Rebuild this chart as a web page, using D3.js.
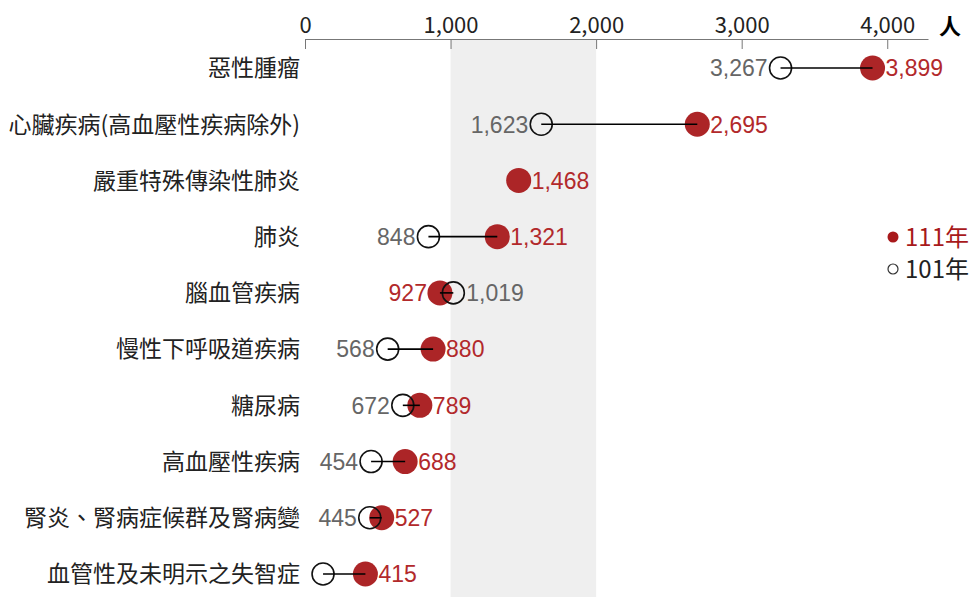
<!DOCTYPE html>
<html>
<head>
<meta charset="utf-8">
<script src="https://cdn.jsdelivr.net/npm/d3@7"></script>
<style>
  body { margin: 0; background: #fff; }
  svg text { font-family: "Noto Sans CJK TC", "Noto Sans", sans-serif; }
  .val { font-family: "Liberation Sans", Arial, sans-serif; }
</style>
</head>
<body>
<svg id="chart" width="973" height="597"></svg>
<script>
'use strict';

// 死因別死亡人數 101年 vs 111年
var causes = ['惡性腫瘤', '心臟疾病(高血壓性疾病除外)', '嚴重特殊傳染性肺炎', '肺炎', '腦血管疾病',
    '慢性下呼吸道疾病', '糖尿病', '高血壓性疾病', '腎炎、腎病症候群及腎病變', '血管性及未明示之失智症'];
var deaths111 = [3899, 2695, 1468, 1321, 927, 880, 789, 688, 527, 415];
var deaths101 = [3267, 1623, null, 848, 1019, 568, 672, 454, 445, 124];
var tickValues = [0, 1000, 2000, 3000, 4000];
var shadeBand = [1000, 2000];

var red = '#a8191b', redText = '#b2292b', grayText = '#666';

var svg = d3.select('#chart');
var x = d3.scaleLinear().domain([0, 4280]).range([305, 928]);
var y = d3.scalePoint().domain(causes).range([68, 574]);
var fmt = d3.format(',');

// shaded band
svg.append('rect')
    .attr('x', x(shadeBand[0]))
    .attr('y', 39)
    .attr('width', x(shadeBand[1]) - x(shadeBand[0]))
    .attr('height', 597 - 39)
    .style('fill', '#efefef');

// top axis
var axis = d3.axisTop(x).tickValues(tickValues).tickFormat(fmt).tickSizeInner(-10).tickSizeOuter(0).tickPadding(6);
var gAxis = svg.append('g').attr('transform', 'translate(0,39)').call(axis);
gAxis.select('.domain').style('stroke', '#777');
gAxis.selectAll('.tick line').style('stroke', '#777');
gAxis.selectAll('.tick text').style('font-size', '22px').style('fill', '#222')
    .attr('font-family', '"Noto Sans CJK TC", sans-serif');
svg.append('text').attr('x', 950).attr('y', 34).attr('text-anchor', 'middle')
    .style('font-size', '22px').style('font-weight', 'bold').text('人');

// category labels
svg.selectAll('.cat').data(causes).enter()
    .append('text')
        .classed('cat', true)
        .attr('x', 300)
        .attr('y', function(d) { return y(d); })
        .attr('dy', '0.36em')
        .attr('text-anchor', 'end')
        .style('font-size', '23px')
        .style('fill', '#222')
        .text(function(d) { return d; });

var rows = causes.map(function(c, i) {
    return {cause: c, now: deaths111[i], before: deaths101[i]};
});

var g = svg.selectAll('.row').data(rows).enter()
    .append('g').classed('row', true)
    .attr('transform', function(d) { return 'translate(0,' + y(d.cause) + ')'; });

// 111 dot
g.append('circle')
    .attr('cx', function(d) { return x(d.now); })
    .attr('r', 12.5)
    .style('fill', red)
    .style('opacity', 0.95);

// 101 dot
g.filter(function(d) { return d.before !== null; })
    .append('circle')
        .attr('cx', function(d) { return x(d.before); })
        .attr('r', 11)
        .style('fill', 'none')
        .style('stroke', '#111')
        .style('stroke-width', 1.6);

// connecting line
g.filter(function(d) { return d.before !== null; })
    .append('line')
        .attr('x1', function(d) { return x(d.before); })
        .attr('x2', function(d) { return x(d.now); })
        .style('stroke', '#000')
        .style('stroke-width', 1.6);

// value labels
g.append('text')
    .classed('val', true)
    .attr('x', function(d) { return d.before !== null && d.before > d.now ? x(d.now) - 13 : x(d.now) + 13; })
    .attr('dy', '0.36em')
    .attr('text-anchor', function(d) { return d.before !== null && d.before > d.now ? 'end' : 'start'; })
    .style('font-size', '23px')
    .style('fill', redText)
    .text(function(d) { return fmt(d.now); });

g.filter(function(d) { return d.before !== null && x(d.before) - 60 > 305; })
    .append('text')
        .classed('val', true)
        .attr('x', function(d) { return d.before > d.now ? x(d.before) + 13 : x(d.before) - 13; })
        .attr('dy', '0.36em')
        .attr('text-anchor', function(d) { return d.before > d.now ? 'start' : 'end'; })
        .style('font-size', '23px')
        .style('fill', grayText)
        .text(function(d) { return fmt(d.before); });

// legend
var legend = svg.append('g').attr('transform', 'translate(893,0)');
legend.append('circle').attr('cx', 0).attr('cy', 237).attr('r', 5.5).style('fill', red);
legend.append('text').attr('x', 12).attr('y', 237).attr('dy', '0.36em')
    .style('font-size', '24px').style('fill', red).text('111年');
legend.append('circle').attr('cx', 0).attr('cy', 269).attr('r', 5)
    .style('fill', 'none').style('stroke', '#333').style('stroke-width', 1.2);
legend.append('text').attr('x', 12).attr('y', 269).attr('dy', '0.36em')
    .style('font-size', '24px').style('fill', '#222').text('101年');
</script>
</body>
</html>
